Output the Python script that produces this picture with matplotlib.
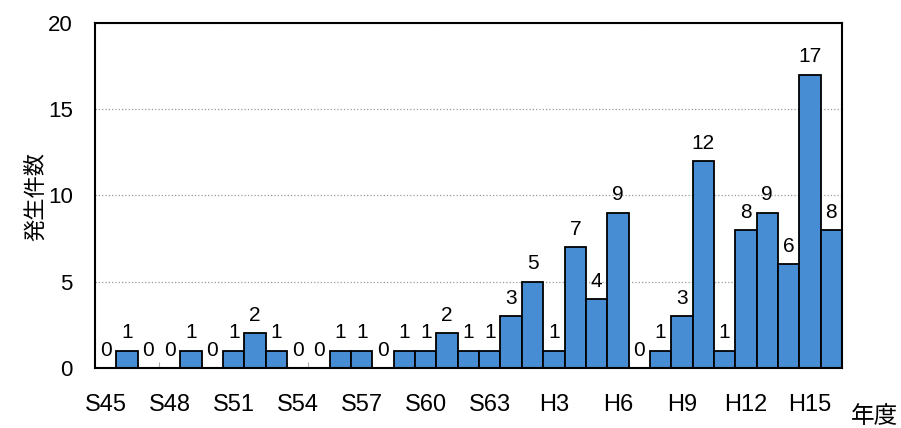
import matplotlib
matplotlib.use("Agg")
import matplotlib.pyplot as plt
import numpy as np

plt.rcParams["font.family"] = ["Liberation Sans", "Noto Sans CJK JP", "DejaVu Sans"]

# 年度 (S45〜S63, H1〜H16)
years = [f"S{y}" for y in range(45, 64)] + [f"H{y}" for y in range(1, 17)]
counts = [0, 1, 0, 0, 1, 0, 1, 2, 1, 0, 0, 1, 1, 0, 1, 1, 2, 1, 1,
          3, 5, 1, 7, 4, 9, 0, 1, 3, 12, 1, 8, 9, 6, 17, 8]
tick_labels = ["S45", "S48", "S51", "S54", "S57", "S60", "S63",
               "H3", "H6", "H9", "H12", "H15"]

x = np.arange(len(years))
tick_pos = [years.index(t) for t in tick_labels]

fig = plt.figure(figsize=(9.01, 4.28), dpi=100)
ax = fig.add_axes([0.1054, 0.1402, 0.8291, 0.8061])

bars = ax.bar(x, counts, width=1.0, color="#468DD3", edgecolor="black",
              linewidth=1.3, zorder=3)
ax.bar_label(bars, padding=6, fontsize=15)

ax.set_xlim(-0.5, len(years) - 0.5)
ax.set_ylim(0, 20)
ax.set_yticks([0, 5, 10, 15, 20])
ax.yaxis.grid(True, linestyle=":", color="#999999", linewidth=0.9, zorder=0)

ax.set_xticks(tick_pos)
ax.set_xticklabels(tick_labels, fontsize=17)
ax.set_xticks(np.arange(0.5, len(years) - 1, 1.0), minor=True)
ax.tick_params(axis="x", which="major", length=0, pad=19)
ax.tick_params(axis="x", which="minor", direction="in", length=4,
               color="#aaaaaa", width=0.8)
ax.tick_params(axis="y", length=0, labelsize=16, pad=16)

for s in ax.spines.values():
    s.set_linewidth(1.5)
    s.set_zorder(4)

fig.text(0.04, 0.54, "発生件数", rotation=90, ha="center", va="center",
         fontsize=16)
fig.text(0.971, 0.025, "年度", ha="center", va="center", fontsize=17)

fig.savefig("out.png", dpi=100)
